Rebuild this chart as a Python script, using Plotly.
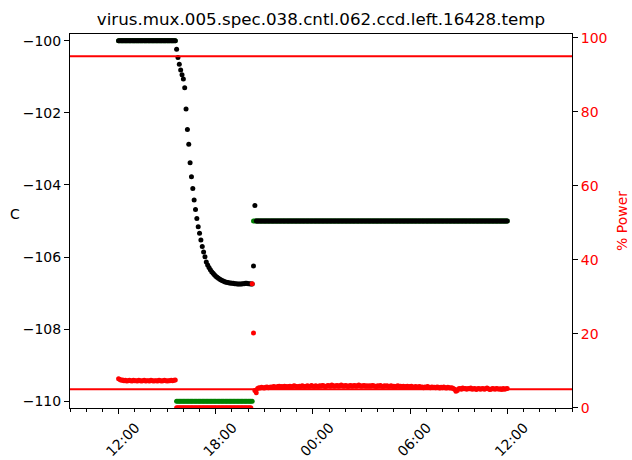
import pandas as pd
import plotly.graph_objects as go

# Sample times: one reading every 5 minutes over 24 hours
times = pd.date_range("2018-03-14 12:00", "2018-03-15 12:00", freq="5min")

# CCD temperature (C)
temp_hold = [
    -100.0, -100.0, -100.0, -100.0, -100.0, -100.0, -100.0, -100.0, -100.0, -100.0, -100.0, -100.0,
    -100.0, -100.0, -100.0, -100.0, -100.0, -100.0, -100.0, -100.0, -100.0, -100.0, -100.0, -100.0,
    -100.0, -100.0, -100.0, -100.0, -100.0, -100.0, -100.0, -100.0, -100.0, -100.0, -100.0, -100.0,
    -100.0, -100.0, -100.0, -100.0, -100.0, -100.0, -100.0,
]
temp_cooldown = [
    -100.23, -100.46, -100.65, -100.81, -100.94, -101.06, -101.30, -101.89, -102.46, -102.87,
    -103.38, -103.77, -104.10, -104.42, -104.68, -104.93, -105.16, -105.34, -105.53, -105.71,
    -105.86, -105.99, -106.14, -106.22, -106.29, -106.35, -106.41, -106.45, -106.49, -106.53,
    -106.56, -106.59, -106.62, -106.64, -106.66, -106.67, -106.69, -106.70, -106.71, -106.72,
    -106.72, -106.73, -106.73, -106.74, -106.74, -106.75, -106.75, -106.75, -106.75, -106.74,
    -106.74, -106.73, -106.73, -106.74, -106.74, -106.75, -106.75,
]
temp_step = [-106.25, -104.57]
temp_regulated = [
    -105.0, -105.0, -105.0, -105.0, -105.0, -105.0, -105.0, -105.0, -105.0, -105.0, -105.0, -105.0,
    -105.0, -105.0, -105.0, -105.0, -105.0, -105.0, -105.0, -105.0, -105.0, -105.0, -105.0, -105.0,
    -105.0, -105.0, -105.0, -105.0, -105.0, -105.0, -105.0, -105.0, -105.0, -105.0, -105.0, -105.0,
    -105.0, -105.0, -105.0, -105.0, -105.0, -105.0, -105.0, -105.0, -105.0, -105.0, -105.0, -105.0,
    -105.0, -105.0, -105.0, -105.0, -105.0, -105.0, -105.0, -105.0, -105.0, -105.0, -105.0, -105.0,
    -105.0, -105.0, -105.0, -105.0, -105.0, -105.0, -105.0, -105.0, -105.0, -105.0, -105.0, -105.0,
    -105.0, -105.0, -105.0, -105.0, -105.0, -105.0, -105.0, -105.0, -105.0, -105.0, -105.0, -105.0,
    -105.0, -105.0, -105.0, -105.0, -105.0, -105.0, -105.0, -105.0, -105.0, -105.0, -105.0, -105.0,
    -105.0, -105.0, -105.0, -105.0, -105.0, -105.0, -105.0, -105.0, -105.0, -105.0, -105.0, -105.0,
    -105.0, -105.0, -105.0, -105.0, -105.0, -105.0, -105.0, -105.0, -105.0, -105.0, -105.0, -105.0,
    -105.0, -105.0, -105.0, -105.0, -105.0, -105.0, -105.0, -105.0, -105.0, -105.0, -105.0, -105.0,
    -105.0, -105.0, -105.0, -105.0, -105.0, -105.0, -105.0, -105.0, -105.0, -105.0, -105.0, -105.0,
    -105.0, -105.0, -105.0, -105.0, -105.0, -105.0, -105.0, -105.0, -105.0, -105.0, -105.0, -105.0,
    -105.0, -105.0, -105.0, -105.0, -105.0, -105.0, -105.0, -105.0, -105.0, -105.0, -105.0, -105.0,
    -105.0, -105.0, -105.0, -105.0, -105.0, -105.0, -105.0, -105.0, -105.0, -105.0, -105.0, -105.0,
    -105.0, -105.0, -105.0, -105.0, -105.0, -105.0, -105.0,
]
temperature = temp_hold + temp_cooldown + temp_step + temp_regulated

# Controller setpoint (C)
setpoint_start = [
    -100.0, -100.0, -100.0, -100.0, -100.0, -100.0, -100.0, -100.0, -100.0, -100.0, -100.0, -100.0,
    -100.0, -100.0, -100.0, -100.0, -100.0, -100.0, -100.0, -100.0, -100.0, -100.0, -100.0, -100.0,
    -100.0, -100.0, -100.0, -100.0, -100.0, -100.0, -100.0, -100.0, -100.0, -100.0, -100.0, -100.0,
    -100.0, -100.0, -100.0, -100.0, -100.0, -100.0, -100.0,
]
setpoint_cold = [
    -110.0, -110.0, -110.0, -110.0, -110.0, -110.0, -110.0, -110.0, -110.0, -110.0, -110.0, -110.0,
    -110.0, -110.0, -110.0, -110.0, -110.0, -110.0, -110.0, -110.0, -110.0, -110.0, -110.0, -110.0,
    -110.0, -110.0, -110.0, -110.0, -110.0, -110.0, -110.0, -110.0, -110.0, -110.0, -110.0, -110.0,
    -110.0, -110.0, -110.0, -110.0, -110.0, -110.0, -110.0, -110.0, -110.0, -110.0, -110.0, -110.0,
    -110.0, -110.0, -110.0, -110.0, -110.0, -110.0, -110.0, -110.0, -110.0,
]
setpoint_final = [
    -105.0, -105.0, -105.0, -105.0, -105.0, -105.0, -105.0, -105.0, -105.0, -105.0, -105.0, -105.0,
    -105.0, -105.0, -105.0, -105.0, -105.0, -105.0, -105.0, -105.0, -105.0, -105.0, -105.0, -105.0,
    -105.0, -105.0, -105.0, -105.0, -105.0, -105.0, -105.0, -105.0, -105.0, -105.0, -105.0, -105.0,
    -105.0, -105.0, -105.0, -105.0, -105.0, -105.0, -105.0, -105.0, -105.0, -105.0, -105.0, -105.0,
    -105.0, -105.0, -105.0, -105.0, -105.0, -105.0, -105.0, -105.0, -105.0, -105.0, -105.0, -105.0,
    -105.0, -105.0, -105.0, -105.0, -105.0, -105.0, -105.0, -105.0, -105.0, -105.0, -105.0, -105.0,
    -105.0, -105.0, -105.0, -105.0, -105.0, -105.0, -105.0, -105.0, -105.0, -105.0, -105.0, -105.0,
    -105.0, -105.0, -105.0, -105.0, -105.0, -105.0, -105.0, -105.0, -105.0, -105.0, -105.0, -105.0,
    -105.0, -105.0, -105.0, -105.0, -105.0, -105.0, -105.0, -105.0, -105.0, -105.0, -105.0, -105.0,
    -105.0, -105.0, -105.0, -105.0, -105.0, -105.0, -105.0, -105.0, -105.0, -105.0, -105.0, -105.0,
    -105.0, -105.0, -105.0, -105.0, -105.0, -105.0, -105.0, -105.0, -105.0, -105.0, -105.0, -105.0,
    -105.0, -105.0, -105.0, -105.0, -105.0, -105.0, -105.0, -105.0, -105.0, -105.0, -105.0, -105.0,
    -105.0, -105.0, -105.0, -105.0, -105.0, -105.0, -105.0, -105.0, -105.0, -105.0, -105.0, -105.0,
    -105.0, -105.0, -105.0, -105.0, -105.0, -105.0, -105.0, -105.0, -105.0, -105.0, -105.0, -105.0,
    -105.0, -105.0, -105.0, -105.0, -105.0, -105.0, -105.0, -105.0, -105.0, -105.0, -105.0, -105.0,
    -105.0, -105.0, -105.0, -105.0, -105.0, -105.0, -105.0, -105.0, -105.0,
]
setpoint = setpoint_start + setpoint_cold + setpoint_final

# Heater power (% of full scale)
power_start = [
    7.8, 7.6, 7.4, 7.5, 7.3, 7.4, 7.2, 7.3, 7.4, 7.3, 7.2, 7.4,
    7.3, 7.3, 7.2, 7.4, 7.3, 7.2, 7.3, 7.4, 7.2, 7.3, 7.3, 7.2,
    7.4, 7.3, 7.2, 7.3, 7.3, 7.2, 7.4, 7.3, 7.2, 7.3, 7.4, 7.3,
    7.2, 7.3, 7.3, 7.4, 7.3, 7.4, 7.5,
]
power_off = [
    0.0, 0.0, 0.0, 0.0, 0.0, 0.0, 0.0, 0.0, 0.0, 0.0, 0.0, 0.0,
    0.0, 0.0, 0.0, 0.0, 0.0, 0.0, 0.0, 0.0, 0.0, 0.0, 0.0, 0.0,
    0.0, 0.0, 0.0, 0.0, 0.0, 0.0, 0.0, 0.0, 0.0, 0.0, 0.0, 0.0,
    0.0, 0.0, 0.0, 0.0, 0.0, 0.0, 0.0, 0.0, 0.0, 0.0, 0.0, 0.0,
    0.0, 0.0, 0.0, 0.0, 0.0, 0.0, 0.0, 0.0,
]
power_step = [33.5, 20.2, 4.6]
power_regulated = [
    4.0, 5.2, 5.4, 5.3, 5.5, 5.4, 5.3, 5.5, 5.6, 5.4, 5.5, 5.6,
    5.5, 5.7, 5.6, 5.5, 5.7, 5.8, 5.6, 5.7, 5.6, 5.8, 5.7, 5.6,
    5.7, 5.8, 5.6, 5.7, 5.9, 5.8, 5.7, 5.6, 5.8, 5.7, 5.9, 5.8,
    5.7, 5.8, 5.9, 5.7, 5.8, 6.0, 5.8, 5.7, 5.9, 5.8, 5.7, 5.9,
    5.8, 6.0, 5.9, 5.7, 5.8, 6.0, 5.9, 5.8, 6.1, 5.9, 5.8, 5.9,
    6.0, 5.8, 5.9, 6.1, 5.9, 5.8, 6.0, 5.9, 5.7, 5.9, 6.0, 5.8,
    5.9, 6.0, 5.8, 5.9, 6.1, 5.9, 5.8, 5.9, 6.0, 5.8, 5.9, 5.8,
    5.9, 5.8, 6.0, 5.9, 5.8, 5.7, 5.9, 5.8, 6.0, 5.8, 5.7, 5.9,
    5.8, 5.9, 5.7, 5.8, 5.9, 5.7, 5.8, 5.6, 5.8, 5.9, 5.7, 5.8,
    5.7, 5.8, 5.6, 5.7, 5.8, 5.6, 5.7, 5.8, 5.6, 5.5, 5.7, 5.6,
    5.6, 5.7, 5.5, 5.6, 5.4, 5.6, 5.5, 5.7, 5.5, 5.4, 5.6, 5.5,
    5.5, 5.4, 5.6, 5.5, 5.3, 5.5, 5.4, 5.6, 5.4, 5.3, 5.5, 5.4,
    5.3, 5.4, 5.2, 5.0, 4.4, 4.6, 5.1, 5.2, 5.0, 5.3, 5.1, 5.2,
    5.0, 5.2, 5.1, 5.3, 5.0, 5.1, 5.2, 4.9, 5.1, 5.2, 5.0, 5.1,
    5.2, 5.0, 5.1, 5.3, 5.1, 4.9, 5.0, 5.2, 5.1, 5.0, 5.2, 5.1,
    5.0, 5.1, 4.9, 5.2, 5.0, 5.1,
    5.2,
]
power = power_start + power_off + power_step + power_regulated

# Heater power alarm limits (%)
power_limits = [5, 95]

TITLE = "virus.mux.005.spec.038.cntl.062.ccd.left.16428.temp"
FONT = "DejaVu Sans"

assert len(temperature) == len(times)
assert len(setpoint) == len(times)
assert len(power) == len(times)

fig = go.Figure()
fig.add_trace(go.Scatter(x=times, y=setpoint, mode="markers",
                         marker=dict(color="#008000", size=5), yaxis="y"))
fig.add_trace(go.Scatter(x=times, y=temperature, mode="markers",
                         marker=dict(color="black", size=5), yaxis="y"))
fig.add_trace(go.Scatter(x=times, y=power, mode="markers",
                         marker=dict(color="#ff0000", size=5), yaxis="y2"))

for lim in power_limits:
    fig.add_shape(type="line", xref="paper", x0=0, x1=1, yref="y2", y0=lim, y1=lim,
                  line=dict(color="#ff0000", width=2), layer="above")

fig.add_annotation(text="C", xref="paper", yref="paper", x=-0.11, y=0.52,
                   showarrow=False, font=dict(family=FONT, size=14, color="black"),
                   xanchor="center", yanchor="middle")

axis_common = dict(showgrid=False, zeroline=False, showline=True, linecolor="black",
                   linewidth=1, ticks="outside", ticklen=5, tickcolor="black", tickwidth=1,
                   automargin=False)

fig.update_layout(
    width=632, height=460,
    margin=dict(l=70, r=60, t=34, b=52),
    paper_bgcolor="white", plot_bgcolor="white",
    showlegend=False,
    font=dict(family=FONT, size=14, color="black"),
    title=dict(text=TITLE, x=0.5, xref="paper", xanchor="center",
               y=1 - 19 / 460, yref="container", yanchor="middle",
               font=dict(family=FONT, size=16.7, color="black")),
    xaxis=dict(axis_common, type="date", mirror=True,
               range=["2018-03-14 09:00", "2018-03-15 16:00"],
               tick0="2018-03-14 00:00", dtick=6 * 3600 * 1000,
               tickformat="%H:%M", tickangle=-45, ticklabelshift=17,
               tickfont=dict(family=FONT, size=14, color="black"),
               minor=dict(dtick=3600 * 1000, ticks="outside", ticklen=3,
                          tickcolor="black", tickwidth=1)),
    yaxis=dict(axis_common, range=[-110.19, -99.81], tick0=-110, dtick=2,
               tickfont=dict(family=FONT, size=14, color="black")),
    yaxis2=dict(axis_common, overlaying="y", side="right", range=[-0.1, 101],
                tick0=0, dtick=20,
                tickfont=dict(family=FONT, size=14, color="#ff0000"),
                title=dict(text="% Power", font=dict(family=FONT, size=14, color="#ff0000"),
                           standoff=10)),
)

fig.write_html("out.html")
